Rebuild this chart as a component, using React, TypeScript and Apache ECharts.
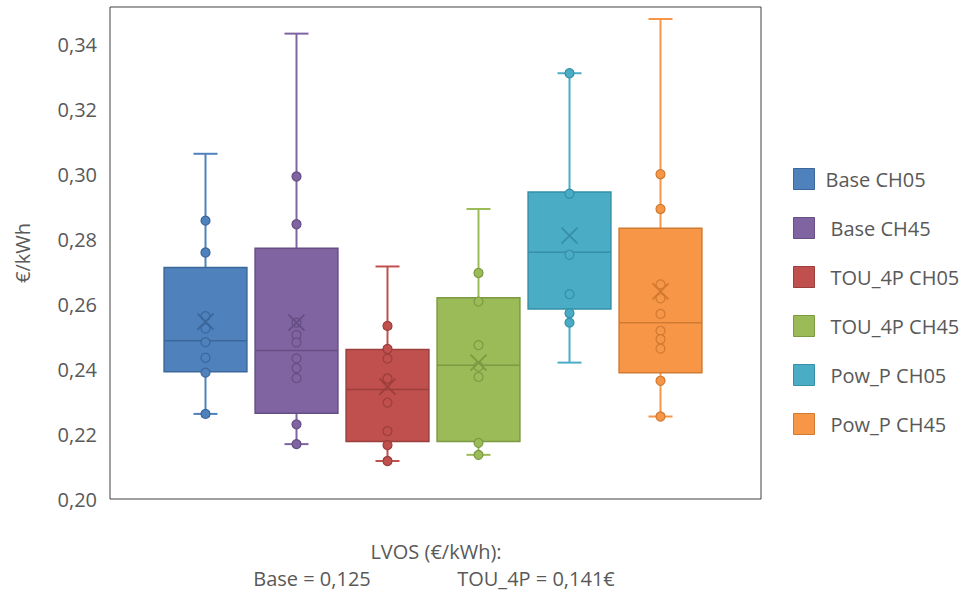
import React, { useEffect, useRef } from "react";
import * as echarts from "echarts";

const categories = ["Base CH05", "Base CH45", "TOU_4P CH05", "TOU_4P CH45", "Pow_P CH05", "Pow_P CH45"];
const colors = ["#4F81BD", "#8064A2", "#C0504D", "#9BBB59", "#4BACC6", "#F79646"];
const darkColors = ["#3C679A", "#654E84", "#9C3E3B", "#7C9A42", "#3590A8", "#D07A32"];

const mins = [0.2262, 0.2169, 0.2117, 0.2136, 0.2420, 0.2254];
const q1s = [0.2392, 0.2264, 0.2177, 0.2177, 0.2585, 0.2389];
const medians = [0.2487, 0.2457, 0.2337, 0.2412, 0.2760, 0.2543];
const q3s = [0.2713, 0.2772, 0.2460, 0.2620, 0.2945, 0.2834];
const maxs = [0.3063, 0.3433, 0.2716, 0.2893, 0.3311, 0.3478];
const means = [0.2546, 0.2543, 0.2346, 0.2420, 0.2811, 0.2639];

const pointsBaseCH05 = [0.2857, 0.2759, 0.2563, 0.2525, 0.2483, 0.2435, 0.2389, 0.2262];
const pointsBaseCH45 = [0.2993, 0.2846, 0.2543, 0.2505, 0.2482, 0.2433, 0.2403, 0.2372, 0.2230, 0.2169];
const pointsTOUCH05 = [0.2533, 0.2462, 0.2432, 0.2371, 0.2297, 0.2209, 0.2166, 0.2117];
const pointsTOUCH45 = [0.2696, 0.2608, 0.2474, 0.2408, 0.2376, 0.2173, 0.2136];
const pointsPowCH05 = [0.3311, 0.2940, 0.2752, 0.2631, 0.2572, 0.2543];
const pointsPowCH45 = [0.3000, 0.2893, 0.2661, 0.2618, 0.2570, 0.2518, 0.2492, 0.2463, 0.2364, 0.2254];
const allPoints = [pointsBaseCH05, pointsBaseCH45, pointsTOUCH05, pointsTOUCH45, pointsPowCH05, pointsPowCH45];

const yMin = 0.2;
const yMax = 0.3515;
const yInterval = 0.02;

const FONT = "Open Sans";
const TEXT = "#595959";

export default function App() {
  const ref = useRef<HTMLDivElement>(null);
  useEffect(() => {
    if (!ref.current) return;
    const chart = echarts.init(ref.current, null, { renderer: "svg" });
    const series: any[] = [];
    categories.forEach((name, i) => {
      series.push({
        name,
        type: "custom",
        xAxisIndex: 1,
        yAxisIndex: 1,
        itemStyle: { color: colors[i], borderColor: darkColors[i], borderWidth: 1 },
        encode: { x: 0, y: [1, 2, 3, 4, 5] },
        data: [[i, mins[i], q1s[i], medians[i], q3s[i], maxs[i]]],
        renderItem: (params: any, api: any) => {
          const idx = api.value(0);
          const pMin = api.coord([idx, api.value(1)]);
          const pQ1 = api.coord([idx, api.value(2)]);
          const pMed = api.coord([idx, api.value(3)]);
          const pQ3 = api.coord([idx, api.value(4)]);
          const pMax = api.coord([idx, api.value(5)]);
          const band = api.size([1, 0])[0];
          const bw = band * 0.91;
          const cx = pMed[0];
          const cap = 12;
          const wStyle = { stroke: colors[i], lineWidth: 2 };
          return {
            type: "group",
            children: [
              { type: "line", shape: { x1: cx, y1: pMax[1], x2: cx, y2: pQ3[1] }, style: wStyle },
              { type: "line", shape: { x1: cx, y1: pQ1[1], x2: cx, y2: pMin[1] }, style: wStyle },
              { type: "line", shape: { x1: cx - cap, y1: pMax[1], x2: cx + cap, y2: pMax[1] }, style: wStyle },
              { type: "line", shape: { x1: cx - cap, y1: pMin[1], x2: cx + cap, y2: pMin[1] }, style: wStyle },
              {
                type: "rect",
                shape: { x: cx - bw / 2, y: pQ3[1], width: bw, height: pQ1[1] - pQ3[1] },
                style: { fill: colors[i], stroke: darkColors[i], lineWidth: 1.5 },
              },
              {
                type: "line",
                shape: { x1: cx - bw / 2, y1: pMed[1], x2: cx + bw / 2, y2: pMed[1] },
                style: { stroke: darkColors[i], lineWidth: 1.5 },
              },
            ],
          };
        },
      });
    });
    categories.forEach((name, i) => {
      series.push({
        name,
        type: "scatter",
        xAxisIndex: 1,
        yAxisIndex: 1,
        symbol: "circle",
        symbolSize: 9,
        itemStyle: { color: colors[i], borderColor: darkColors[i], borderWidth: 1.2, opacity: 1 },
        data: allPoints[i].map((v) => [i, v]),
        z: 3,
      });
      series.push({
        name,
        type: "scatter",
        xAxisIndex: 1,
        yAxisIndex: 1,
        symbol: "path://M0 0L16 16M16 0L0 16",
        symbolSize: 16,
        itemStyle: { color: "none", borderColor: darkColors[i], borderWidth: 1.8, opacity: 1 },
        data: [[i, means[i]]],
        z: 4,
      });
    });

    const option: any = {
      animation: false,
      backgroundColor: "#ffffff",
      textStyle: { fontFamily: FONT },
      grid: [
        { left: 110, right: 206, top: 7, bottom: 93, show: true, borderColor: "#404040", borderWidth: 1, backgroundColor: "transparent" },
        { left: 160, right: 261, top: 7, bottom: 93 },
      ],
      xAxis: [
        { type: "category", gridIndex: 0, data: [""], show: false },
        { type: "category", gridIndex: 1, data: categories, show: false, boundaryGap: true },
      ],
      yAxis: [
        {
          type: "value",
          gridIndex: 0,
          min: yMin,
          max: yMax,
          interval: yInterval,
          axisLine: { show: false },
          axisTick: { show: false },
          splitLine: { show: false },
          axisLabel: {
            showMaxLabel: false,
            margin: 13,
            fontSize: 20,
            color: TEXT,
            fontFamily: FONT,
            formatter: (v: number) => v.toFixed(2).replace(".", ","),
          },
        },
        { type: "value", gridIndex: 1, min: yMin, max: yMax, interval: yInterval, show: false, splitLine: { show: false } },
      ],
      legend: {
        orient: "vertical",
        left: 793,
        top: 168,
        padding: 0,
        itemWidth: 21,
        itemHeight: 21,
        itemGap: 27,
        icon: "rect",
        textStyle: { fontSize: 20, color: TEXT, fontFamily: FONT, padding: [0, 0, 0, 11] },
        data: categories.map((n, i) => ({
          name: n,
          itemStyle: { color: colors[i], borderColor: darkColors[i], borderWidth: 1 },
          textStyle: i === 0 ? { padding: [0, 0, 0, 6] } : undefined,
        })),
      },
      graphic: [
        {
          type: "text",
          x: 22,
          y: 253,
          rotation: Math.PI / 2,
          style: { text: "€/kWh", fill: TEXT, font: `20px "${FONT}"`, textAlign: "center", textVerticalAlign: "middle" },
        },
        {
          type: "text",
          x: 436,
          y: 551,
          style: { text: "LVOS (€/kWh):", fill: TEXT, font: `20px "${FONT}"`, textAlign: "center", textVerticalAlign: "middle" },
        },
        {
          type: "text",
          x: 312,
          y: 578,
          style: { text: "Base = 0,125", fill: TEXT, font: `20px "${FONT}"`, textAlign: "center", textVerticalAlign: "middle" },
        },
        {
          type: "text",
          x: 536,
          y: 578,
          style: { text: "TOU_4P = 0,141€", fill: TEXT, font: `20px "${FONT}"`, textAlign: "center", textVerticalAlign: "middle" },
        },
      ],
      series,
    };
    chart.setOption(option);
    return () => chart.dispose();
  }, []);
  return <div ref={ref} style={{ position: "fixed", left: 0, top: 0, width: 967, height: 592, background: "#fff" }} />;
}
